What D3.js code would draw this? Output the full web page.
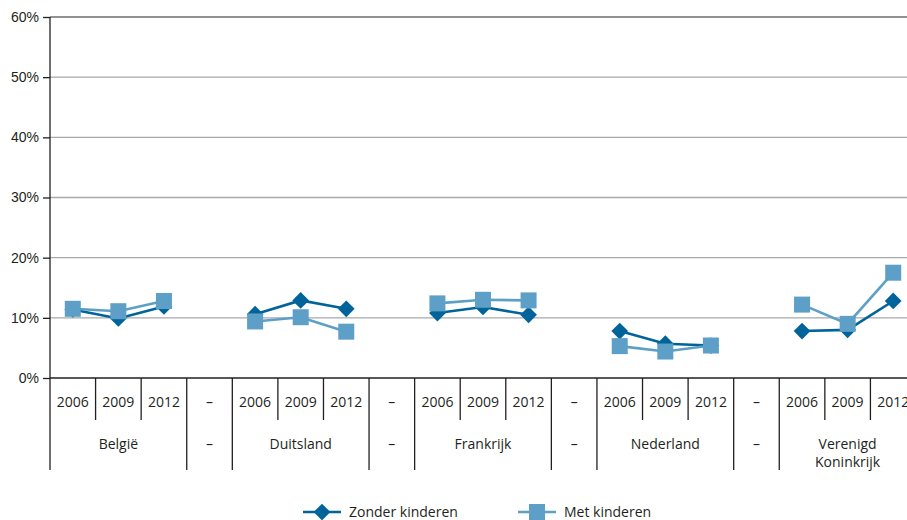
<!DOCTYPE html>
<html>
<head>
<meta charset="utf-8">
<script src="https://cdn.jsdelivr.net/npm/d3@7"></script>
<style>
  body { margin: 0; background: #fff; }
  svg { font-family: 'Open Sans', 'Noto Sans', sans-serif; }
  .lbl { font-size: 14px; fill: #231f20; }
</style>
</head>
<body>
<svg id="chart" width="907" height="520"></svg>
<script>
const countries = ['België', 'Duitsland', 'Frankrijk', 'Nederland', 'Verenigd Koninkrijk'];
const years = ['2006', '2009', '2012'];
const zonder = [
  [11.4, 9.9, 11.9],
  [10.6, 12.9, 11.5],
  [10.8, 11.8, 10.5],
  [7.8, 5.7, 5.4],
  [7.8, 8.0, 12.8],
];
const met = [
  [11.5, 11.1, 12.8],
  [9.4, 10.1, 7.7],
  [12.4, 13.0, 12.9],
  [5.3, 4.4, 5.4],
  [12.2, 9.0, 17.5],
];
const yTicks = [0, 10, 20, 30, 40, 50, 60];

const width = 907, height = 520;
const darkBlue = '#00649a', lightBlue = '#5d9fc7';

const svg = d3.select('#chart');

// slots: 3 years per country, gap slot between countries
const slots = [];
countries.forEach((c, ci) => {
  years.forEach((y) => slots.push({ key: c + '|' + y, country: c, year: y, ci }));
  if (ci < countries.length - 1) slots.push({ key: 'gap' + ci, gap: true, ci });
});

const x = d3.scaleBand().domain(slots.map((d) => d.key)).range([50, 916]).padding(0);
const yScale = d3.scaleLinear().domain([0, 60]).range([378, 17]);
const bw = x.bandwidth();

// gridlines
svg.append('g').selectAll('line').data(yTicks.filter((t) => t > 0)).join('line')
  .attr('x1', 50).attr('x2', width)
  .attr('y1', (d) => yScale(d)).attr('y2', (d) => yScale(d))
  .attr('stroke', (d) => (d === 60 ? '#6d6e71' : '#a7a9ac'))
  .attr('stroke-width', 1.3);

// y axis
const yAxis = svg.append('g').attr('transform', 'translate(50,0)')
  .call(d3.axisLeft(yScale).tickValues(yTicks).tickFormat((d) => d + '%').tickSize(7).tickPadding(4));
yAxis.select('.domain').remove();
yAxis.selectAll('line').attr('stroke', '#231f20').attr('stroke-width', 1.3);
yAxis.selectAll('text').attr('class', 'lbl').attr('font-size', 14).attr('font-family', null);

svg.append('line').attr('x1', 50).attr('x2', 50).attr('y1', 17).attr('y2', 470)
  .attr('stroke', '#231f20').attr('stroke-width', 1.3);
svg.append('line').attr('x1', 50).attr('x2', width).attr('y1', 378).attr('y2', 378)
  .attr('stroke', '#231f20').attr('stroke-width', 1.6);

// category separators
const bounds = [];
slots.forEach((s, i) => {
  if (i === 0) return;
  const prev = slots[i - 1];
  bounds.push({ x: x(s.key), long: s.gap || prev.gap });
});
svg.append('g').selectAll('line').data(bounds).join('line')
  .attr('x1', (d) => d.x).attr('x2', (d) => d.x)
  .attr('y1', 378).attr('y2', (d) => (d.long ? 470 : 420))
  .attr('stroke', '#231f20').attr('stroke-width', 1.3);

// year labels + dashes
svg.append('g').selectAll('text').data(slots).join('text')
  .attr('class', 'lbl')
  .attr('x', (d) => x(d.key) + bw / 2).attr('y', 407)
  .attr('text-anchor', 'middle')
  .text((d) => (d.gap ? '–' : d.year));

// country labels
const groupLabels = [];
countries.forEach((c, ci) => {
  groupLabels.push({ x: x(c + '|2009') + bw / 2, text: c });
  if (ci < countries.length - 1) groupLabels.push({ x: x('gap' + ci) + bw / 2, text: '–' });
});
const gl = svg.append('g').selectAll('text').data(groupLabels).join('text')
  .attr('class', 'lbl').attr('text-anchor', 'middle').attr('y', 449);
gl.each(function (d) {
  const t = d3.select(this);
  if (d.text === 'Verenigd Koninkrijk') {
    t.append('tspan').attr('x', d.x).attr('y', 449).text('Verenigd');
    t.append('tspan').attr('x', d.x).attr('y', 467).text('Koninkrijk');
  } else {
    t.attr('x', d.x).text(d.text);
  }
});

// series
const line = d3.line().x((d) => x(d.key) + bw / 2).y((d) => yScale(d.v));
const series = [
  { name: 'Zonder kinderen', data: zonder, color: darkBlue, shape: 'diamond' },
  { name: 'Met kinderen', data: met, color: lightBlue, shape: 'square' },
];
const diamondSize = 140, squareSize = 256;

function marker(g, shape, color) {
  const size = shape === 'diamond' ? diamondSize : squareSize;
  const p = g.append('path').attr('d', d3.symbol(d3.symbolSquare, size)()).attr('fill', color);
  if (shape === 'diamond') p.attr('transform', 'rotate(45)');
}

// lines first, then markers (met on top)
series.forEach((s) => {
  countries.forEach((c, ci) => {
    const pts = years.map((y, yi) => ({ key: c + '|' + y, v: s.data[ci][yi] }));
    svg.append('path').datum(pts).attr('d', line)
      .attr('fill', 'none').attr('stroke', s.color).attr('stroke-width', 2.6);
  });
});
series.forEach((s) => {
  countries.forEach((c, ci) => {
    years.forEach((y, yi) => {
      const g = svg.append('g').attr('transform',
        `translate(${x(c + '|' + y) + bw / 2},${yScale(s.data[ci][yi])})`);
      marker(g, s.shape, s.color);
    });
  });
});

// legend
const legend = [
  { name: 'Zonder kinderen', color: darkBlue, shape: 'diamond', x: 303 },
  { name: 'Met kinderen', color: lightBlue, shape: 'square', x: 518 },
];
legend.forEach((l) => {
  const g = svg.append('g').attr('transform', `translate(${l.x},512)`);
  g.append('line').attr('x1', 0).attr('x2', 38).attr('stroke', l.color).attr('stroke-width', 2.6);
  marker(g.append('g').attr('transform', 'translate(19,0)'), l.shape, l.color);
  g.append('text').attr('class', 'lbl').attr('x', 46).attr('y', 5).text(l.name);
});
</script>
</body>
</html>
